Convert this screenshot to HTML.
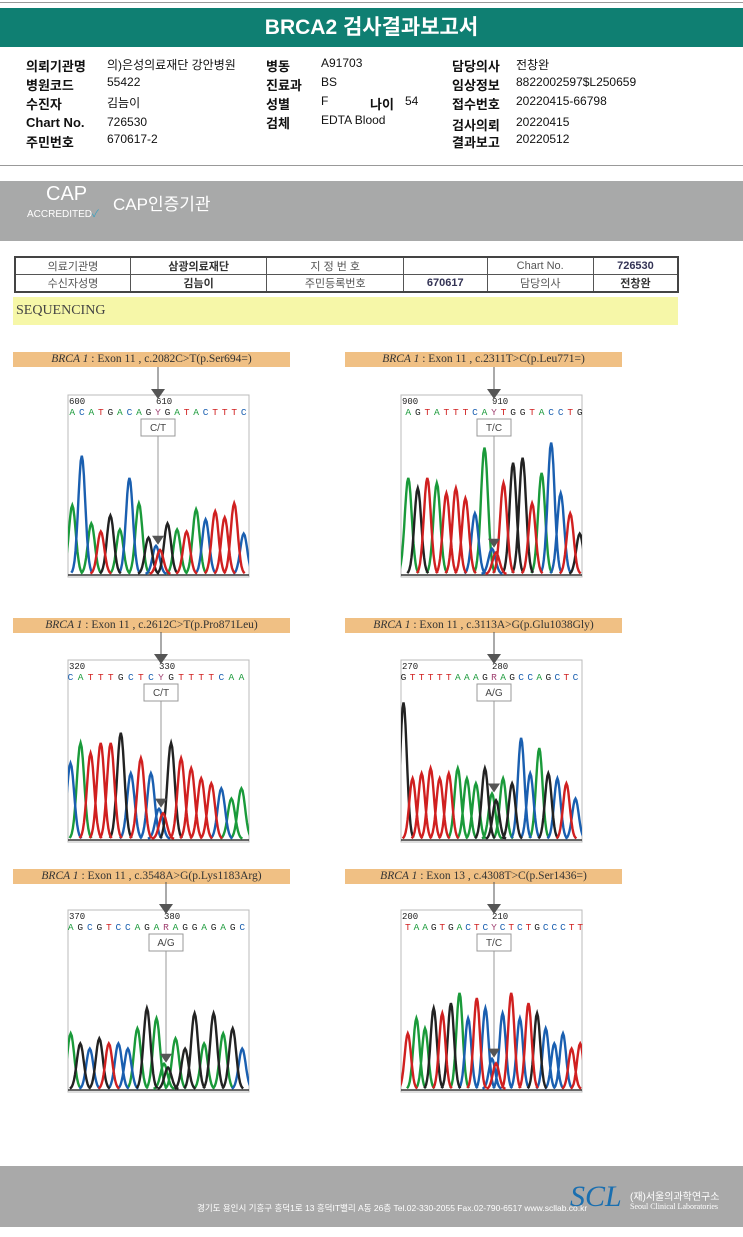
<!DOCTYPE html>
<html><head><meta charset="utf-8">
<style>
*{margin:0;padding:0;box-sizing:border-box}
body{width:743px;height:1237px;background:#fff;position:relative;overflow:hidden;font-family:"Liberation Sans","Noto Sans CJK KR",sans-serif;color:#111}
.abs{position:absolute}
.inf{position:absolute;font-size:12px;white-space:nowrap}
.k{font-weight:bold;font-size:13px}
.lbl{position:absolute;height:15px;width:277px;background:#f0c084;font-family:"Liberation Serif","Noto Serif CJK SC",serif;font-size:11.5px;text-align:center;line-height:15px;color:#333}
table td{border:1px solid #555;font-size:11px;text-align:center;height:13px;color:#555}
</style></head><body>
<div class="abs" style="left:0;top:2px;width:743px;height:1px;background:#999"></div>
<div class="abs" style="left:0;top:8px;width:743px;height:39px;background:#0f7f72;color:#fff;font-weight:bold;font-size:21px;text-align:center;line-height:40px">BRCA2 검사결과보고서</div>
<div>
<div class="inf k" style="left:26px;top:56px">의뢰기관명</div><div class="inf" style="left:107px;top:56px">의)은성의료재단 강안병원</div>
<div class="inf k" style="left:26px;top:75px">병원코드</div><div class="inf" style="left:107px;top:75px">55422</div>
<div class="inf k" style="left:26px;top:94px">수진자</div><div class="inf" style="left:107px;top:94px">김늠이</div>
<div class="inf k" style="left:26px;top:115px">Chart No.</div><div class="inf" style="left:107px;top:115px">726530</div>
<div class="inf k" style="left:26px;top:132px">주민번호</div><div class="inf" style="left:107px;top:132px">670617-2</div>
<div class="inf k" style="left:266px;top:56px">병동</div><div class="inf" style="left:321px;top:56px">A91703</div>
<div class="inf k" style="left:266px;top:75px">진료과</div><div class="inf" style="left:321px;top:75px">BS</div>
<div class="inf k" style="left:266px;top:94px">성별</div><div class="inf" style="left:321px;top:94px">F</div>
<div class="inf k" style="left:370px;top:94px">나이</div><div class="inf" style="left:405px;top:94px">54</div>
<div class="inf k" style="left:266px;top:113px">검체</div><div class="inf" style="left:321px;top:113px">EDTA Blood</div>
<div class="inf k" style="left:452px;top:56px">담당의사</div><div class="inf" style="left:516px;top:56px">전창완</div>
<div class="inf k" style="left:452px;top:75px">임상정보</div><div class="inf" style="left:516px;top:75px">8822002597$L250659</div>
<div class="inf k" style="left:452px;top:94px">접수번호</div><div class="inf" style="left:516px;top:94px">20220415-66798</div>
<div class="inf k" style="left:452px;top:115px">검사의뢰</div><div class="inf" style="left:516px;top:115px">20220415</div>
<div class="inf k" style="left:452px;top:132px">결과보고</div><div class="inf" style="left:516px;top:132px">20220512</div>
</div>
<div class="abs" style="left:0;top:165px;width:743px;height:1px;background:#999"></div>
<div class="abs" style="left:0;top:181px;width:743px;height:60px;background:#a8a9a9">
<div class="abs" style="left:46px;top:2px;font-size:20px;color:#fff">CAP</div>
<div class="abs" style="left:27px;top:24px;font-size:10px;color:#fff">ACCREDITED<span style="color:#3aa0c0">✓</span></div>
<div class="abs" style="left:113px;top:9px;font-size:17px;color:#fff">CAP인증기관</div>
</div>
<table class="abs" style="left:14px;top:256px;width:665px;border-collapse:collapse;border:2px solid #444">
<tr><td>의료기관명</td><td style="font-weight:bold;color:#333">삼광의료재단</td><td>지 정 번 호</td><td></td><td>Chart No.</td><td style="font-weight:bold;color:#335">726530</td></tr>
<tr><td>수신자성명</td><td style="font-weight:bold;color:#333">김늠이</td><td>주민등록번호</td><td style="font-weight:bold;color:#335">670617</td><td>담당의사</td><td style="font-weight:bold;color:#333">전창완</td></tr>
</table>
<div class="abs" style="left:13px;top:297px;width:665px;height:28px;background:#f6f7a8;font-family:'Liberation Serif',serif;font-size:14px;line-height:28px;padding-left:3px;color:#444">SEQUENCING</div>

<div class="lbl" style="left:13px;top:352px"><i>BRCA 1</i> : Exon 11 , c.2082C&gt;T(p.Ser694=)</div>
<div class="lbl" style="left:345px;top:352px"><i>BRCA 1</i> : Exon 11 , c.2311T&gt;C(p.Leu771=)</div>
<div class="lbl" style="left:13px;top:618px"><i>BRCA 1</i> : Exon 11 , c.2612C&gt;T(p.Pro871Leu)</div>
<div class="lbl" style="left:345px;top:618px"><i>BRCA 1</i> : Exon 11 , c.3113A&gt;G(p.Glu1038Gly)</div>
<div class="lbl" style="left:13px;top:869px"><i>BRCA 1</i> : Exon 11 , c.3548A&gt;G(p.Lys1183Arg)</div>
<div class="lbl" style="left:345px;top:869px"><i>BRCA 1</i> : Exon 13 , c.4308T&gt;C(p.Ser1436=)</div>

<svg id="chr" class="abs" style="left:0;top:0" width="743" height="1237"></svg>

<div class="abs" style="left:0;top:1166px;width:743px;height:61px;background:#a9a9a9">
<div class="abs" style="left:197px;top:36px;font-size:8.5px;color:#fff;white-space:nowrap">경기도 용인시 기흥구 흥덕1로 13 흥덕IT밸리 A동 26층 Tel.02-330-2055 Fax.02-790-6517 www.scllab.co.kr</div>
<div class="abs" style="left:570px;top:14px;font-family:'Liberation Serif',serif;font-style:italic;font-size:30px;color:#1a6fb0">SCL</div>
<div class="abs" style="left:630px;top:22px;font-size:10px;color:#fff">(재)서울의과학연구소</div>
<div class="abs" style="left:630px;top:36px;font-size:8px;color:#fff;font-family:'Liberation Serif',serif">Seoul Clinical Laboratories</div>
</div>

<script>
const seq1=["A","C","A","T","G","A","C","A","G","Y","G","A","T","A","C","T","T","T","C"];
const h1=[68,117,50,42,58,44,95,70,36,28,50,44,42,64,54,62,56,70,40];
const seq2=["A","G","T","A","T","T","T","C","A","Y","T","G","G","T","A","C","C","T","G"];
const h2=[95,85,95,90,80,85,75,60,125,25,90,110,115,70,100,130,80,60,40];
const seq3=["C","A","T","T","T","G","C","T","C","Y","G","T","T","T","T","C","A","A"];
const h3=[75,95,85,95,95,105,65,80,65,30,95,80,70,60,55,50,40,50];
const seq4=["G","T","T","T","T","T","A","A","A","G","R","A","G","C","C","A","G","C","T","C"];
const h4=[135,60,65,70,60,65,70,60,55,70,45,60,55,100,65,90,65,60,55,40];
const seq5=["A","G","C","G","T","C","C","A","G","A","R","A","G","G","A","G","A","G","C"];
const h5=[55,45,40,50,45,45,40,60,80,70,25,50,40,75,45,75,55,60,40];
const seq6=["T","A","A","G","T","G","A","C","T","C","Y","C","T","C","T","G","C","C","C","T","T"];
const h6=[55,70,60,80,75,85,95,70,90,80,30,75,95,70,85,75,60,45,55,40,45];
const ticks=[["600","610"],["900","910"],["320","330"],["270","280"],["370","380"],["200","210"]];
const panels=[[68,395,seq1,h1,90,"C/T"],[401,395,seq2,h2,93,"T/C"],[68,660,seq3,h3,93,"C/T"],[401,660,seq4,h4,93,"A/G"],[68,910,seq5,h5,98,"A/G"],[401,910,seq6,h6,93,"T/C"]];
const col={A:"#1a9a3a",C:"#1a5fb0",G:"#222",T:"#d02020"};
const het={Y:["C","T"],R:["A","G"]};
const svg=document.getElementById('chr');const NS="http://www.w3.org/2000/svg";
function mk(t,a,p){const e=document.createElementNS(NS,t);for(const k in a)e.setAttribute(k,a[k]);(p||svg).appendChild(e);return e;}
const W=181,H=182;
panels.forEach((p,pi)=>{
 const [x0,y0,seq,hs,ax,gt]=p;
 const g=mk('g',{});
 
 
 mk('rect',{x:x0,y:y0,width:W,height:H,fill:'#fff',stroke:'#bbb'},g);
 const n=seq.length, hi=seq.findIndex(s=>het[s]);
 const sp=W/n; const xAt=i=>x0+ax+(i-hi)*sp;
 const base=y0+H-3; const ys=v=>base-v*H/180;
 const t1=mk('text',{x:x0+1,y:y0+9,'font-size':9,fill:'#222','font-family':'Liberation Mono,monospace'},g);t1.textContent=ticks[pi][0];
 const t2=mk('text',{x:x0+ax-2,y:y0+9,'font-size':9,fill:'#222','font-family':'Liberation Mono,monospace'},g);t2.textContent=ticks[pi][1];
 const paths={A:"",C:"",G:"",T:""};
 seq.forEach((s,i)=>{
  const x=xAt(i); if(x<x0-2||x>x0+W+2)return;
  const lt=mk('text',{x:x,y:y0+20,'font-size':9.5,'text-anchor':'middle',fill:het[s]?'#a04070':col[s],'font-family':'Liberation Mono,monospace'},g);lt.textContent=s;
  const bs=het[s]||[s];
  bs.forEach((b,j)=>{const h=hs[i]*(j?0.85:1);const xx=x+(het[s]?(j?2:-2):0);
   let d="";for(let k=-10;k<=10;k++){const px=xx+k*sp/10*1.1;const py=ys(h*Math.exp(-k*k/22));d+=(k==-10?"M":"L")+px.toFixed(1)+","+py.toFixed(1);}paths[b]+=d;});
 });
 const cp=mk('clipPath',{id:'c'+pi},g);mk('rect',{x:x0,y:y0,width:W,height:H},cp);
 mk('line',{x1:x0,y1:base+1,x2:x0+W,y2:base+1,stroke:'#333','stroke-width':1.5},g);
 for(const b in paths){const e=mk('path',{d:paths[b],fill:'none',stroke:col[b],'stroke-width':2.4,'clip-path':`url(#c${pi})`},g);}
 const cx=x0+ax;
 mk('line',{x1:cx,y1:y0-28,x2:cx,y2:y0-5,stroke:'#555','stroke-width':1},g);
 mk('path',{d:`M${cx-7},${y0-6}L${cx+7},${y0-6}L${cx},${y0+4}Z`,fill:'#555'},g);
 mk('line',{x1:cx,y1:y0+41,x2:cx,y2:ys(hs[hi])-8,stroke:'#999','stroke-width':1},g);
 mk('path',{d:`M${cx-6},${ys(hs[hi])-10}L${cx+6},${ys(hs[hi])-10}L${cx},${ys(hs[hi])-1}Z`,fill:'#555'},g);
 const bx=mk('rect',{x:cx-17,y:y0+24,width:34,height:17,fill:'#fff',stroke:'#999'},g);
 
 const gtx=mk('text',{x:cx,y:y0+36,'font-size':10,'text-anchor':'middle',fill:'#444'},g);gtx.textContent=gt;
});
</script>
</body></html>
